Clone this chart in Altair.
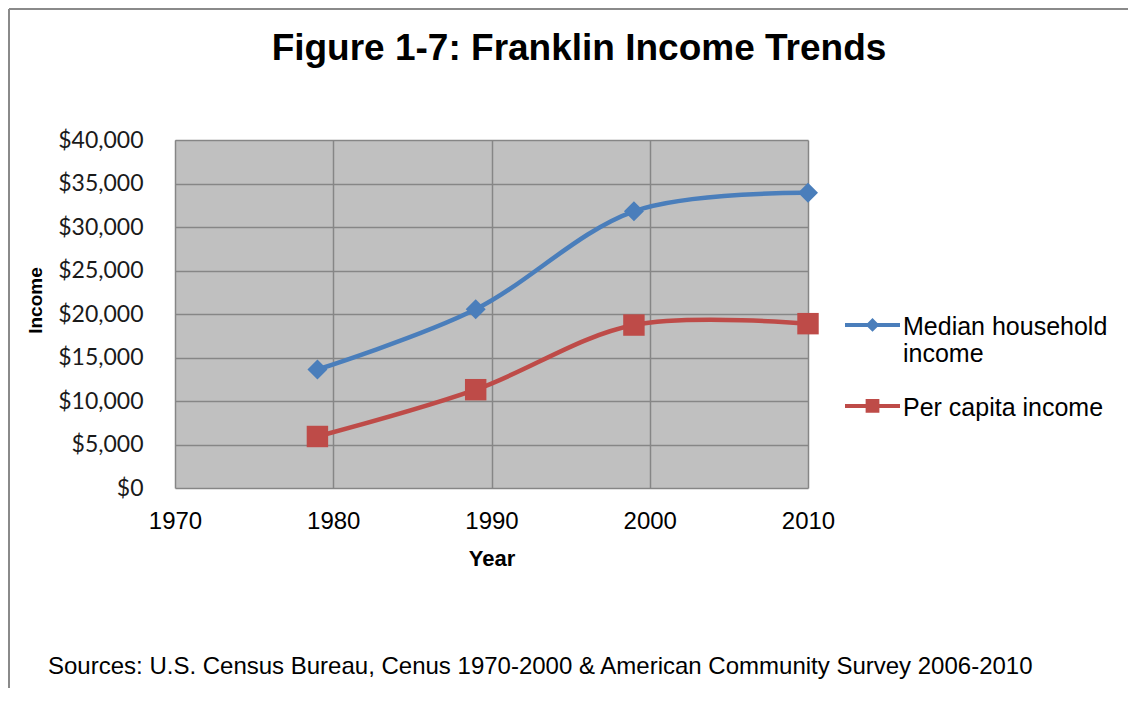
import altair as alt
import pandas as pd

years = [1979, 1989, 1999, 2010]
median_income = [13620, 20540, 31800, 33930]
per_capita_income = [5920, 11300, 18730, 18890]
series_names = ["Median household income", "Per capita income"]
series_colors = ["#4a7ebb", "#be4b48"]
title_text = "Figure 1-7: Franklin Income Trends"
source_text = "Sources: U.S. Census Bureau, Cenus 1970-2000 & American Community Survey 2006-2010"
x_ticks = [1970, 1980, 1990, 2000, 2010]
y_ticks = [0, 5000, 10000, 15000, 20000, 25000, 30000, 35000, 40000]

rows = []
for y, v in zip(years, median_income):
    rows.append({"year": y, "income": v, "series": series_names[0]})
for y, v in zip(years, per_capita_income):
    rows.append({"year": y, "income": v, "series": series_names[1]})
df = pd.DataFrame(rows)

W, H = 633, 348

x_enc = alt.X("year:Q",
              scale=alt.Scale(domain=[1970, 2010], nice=False, zero=False),
              axis=alt.Axis(values=x_ticks, format="d", title="Year", ticks=False, domain=False,
                            labelFont="Liberation Sans", labelFontSize=24, labelColor="#000000",
                            labelPadding=21, labelFlush=False,
                            titleFont="Liberation Sans", titleFontSize=22, titleFontWeight="bold",
                            titleColor="#000000", titleY=70, titleBaseline="middle",
                            grid=True, gridColor="#868686", gridWidth=1.5))
y_enc = alt.Y("income:Q",
              scale=alt.Scale(domain=[0, 40000], nice=False),
              axis=alt.Axis(values=y_ticks, format="$,.0f", title="Income", ticks=False, domain=False,
                            labelFont="Lato", labelFontSize=23, labelColor="#1a1a1a",
                            labelPadding=32,
                            titleFont="Liberation Sans", titleFontSize=19, titleFontWeight="bold",
                            titleColor="#000000", titleX=-140, titleY=160, titleAngle=270,
                            titleBaseline="middle",
                            grid=True, gridColor="#868686", gridWidth=1.5))

base = alt.Chart(df)
layers = []
for name, col in zip(series_names, series_colors):
    sub = base.transform_filter(alt.datum.series == name)
    layers.append(sub.mark_line(interpolate="cardinal", strokeWidth=4.5, color=col).encode(
        x=x_enc, y=y_enc))
for name, col, shp, sz in zip(series_names, series_colors, ["diamond", "square"], [400, 460]):
    sub = base.transform_filter(alt.datum.series == name)
    layers.append(sub.mark_point(shape=shp, filled=True, size=sz, opacity=1, color=col).encode(
        x="year:Q", y="income:Q"))

c = 0.38
path_diamond = (f"M-1,{c-0.075} L1,{c-0.075} L1,{c+0.075} L-1,{c+0.075} Z "
                f"M0,{c-0.25} L0.25,{c} L0,{c+0.25} L-0.25,{c} Z")
path_square = (f"M-1,{c-0.075} L1,{c-0.075} L1,{c+0.075} L-1,{c+0.075} Z "
               f"M-0.25,{c-0.25} L0.25,{c-0.25} L0.25,{c+0.25} L-0.25,{c+0.25} Z")

legend_kw = dict(orient="none", legendX=670, legendY=147, title=None, padding=0,
                 symbolSize=3025, symbolStrokeWidth=0, symbolOpacity=1,
                 labelFont="Liberation Sans", labelFontSize=25, labelColor="#000000",
                 labelBaseline="top", labelOffset=3, labelLimit=400, rowPadding=1,
                 labelExpr="datum.label == 'Median household income' ? ['Median household', 'income'] : datum.label")

legend_layer = base.transform_filter("false").mark_point(filled=True).encode(
    x="year:Q", y="income:Q",
    color=alt.Color("series:N", scale=alt.Scale(domain=series_names, range=series_colors),
                    legend=alt.Legend(**legend_kw)),
    shape=alt.Shape("series:N", scale=alt.Scale(domain=series_names, range=[path_diamond, path_square]),
                    legend=alt.Legend(**legend_kw)),
)
layers.append(legend_layer)

one = alt.Chart(pd.DataFrame({"t": [source_text], "h": [title_text]}))
footnote = one.mark_text(align="left", baseline="middle", font="Liberation Sans", fontSize=24,
                         color="#000000").encode(
    text="t:N", x=alt.value(-127), y=alt.value(527))
title_mark = one.mark_text(align="center", baseline="middle", font="Liberation Sans", fontSize=37,
                           fontWeight="bold", color="#000000").encode(
    text="h:N", x=alt.value(404), y=alt.value(-91))

frame_v = one.mark_rule(color="#8a8a8a", strokeWidth=2).encode(
    x=alt.value(-166), y=alt.value(-131), y2=alt.value(700))
frame_h = one.mark_rule(color="#8a8a8a", strokeWidth=2).encode(
    x=alt.value(-166), x2=alt.value(1200), y=alt.value(-131))

chart = alt.layer(frame_v, frame_h, *layers, footnote, title_mark).properties(
    width=W, height=H,
    padding={"left": 167, "top": 132, "right": 320, "bottom": 200},
    autosize=alt.AutoSizeParams(type="none"),
).configure(background="#ffffff").configure_view(fill="#c0c0c0", stroke=None)

chart.save("out.html", embed_options={"renderer": "svg", "actions": False})
